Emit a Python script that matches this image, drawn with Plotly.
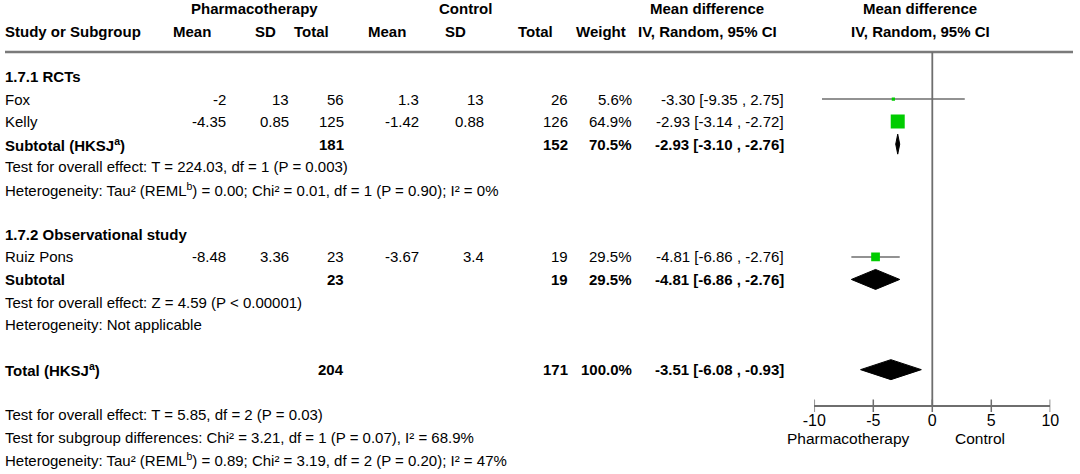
import plotly.graph_objects as go

# study level data
studies = ["Fox", "Kelly", "Ruiz Pons"]
pharm_mean = [-2, -4.35, -8.48]
pharm_sd = [13, 0.85, 3.36]
pharm_n = [56, 125, 23]
ctrl_mean = [1.3, -1.42, -3.67]
ctrl_sd = [13, 0.88, 3.4]
ctrl_n = [26, 126, 19]
weights = [5.6, 64.9, 29.5]
md = [-3.30, -2.93, -4.81]
ci_lo = [-9.35, -3.14, -6.86]
ci_hi = [2.75, -2.72, -2.76]

# subtotals and total
sum_names = ["Subtotal (HKSJ<sup>a</sup>)", "Subtotal", "Total (HKSJ<sup>a</sup>)"]
sum_pharm_n = [181, 23, 204]
sum_ctrl_n = [152, 19, 171]
sum_weights = [70.5, 29.5, 100.0]
sum_md = [-2.93, -4.81, -3.51]
sum_lo = [-3.10, -6.86, -6.08]
sum_hi = [-2.76, -2.76, -0.93]

groups = ["1.7.1 RCTs", "1.7.2 Observational study"]
notes = [
    "Test for overall effect: T = 224.03, df = 1 (P = 0.003)",
    "Heterogeneity: Tau² (REML<sup>b</sup>) = 0.00; Chi² = 0.01, df = 1 (P = 0.90); I² = 0%",
    "Test for overall effect: Z = 4.59 (P < 0.00001)",
    "Heterogeneity: Not applicable",
    "Test for overall effect: T = 5.85, df = 2 (P = 0.03)",
    "Test for subgroup differences: Chi² = 3.21, df = 1 (P = 0.07), I² = 68.9%",
    "Heterogeneity: Tau² (REML<sup>b</sup>) = 0.89; Chi² = 3.19, df = 2 (P = 0.20); I² = 47%",
]
ticks = [-10, -5, 0, 5, 10]

# layout rows (row index -> line of the table)
study_rows = [1, 2, 8]
sum_rows = [3, 9, 13]
group_rows = [0, 7]
note_rows = [4, 5, 10, 11, 15, 16, 17]

W, H = 1080, 474
ROW0, ROWH = 76.5, 22.55          # pixel centre of row 0 and row height
AXIS_PX = 405.7                   # pixel y of the forest axis
FONT = "Liberation Sans, Arial, sans-serif"
FS = 15


def prow(px):
    return (px - ROW0) / ROWH


fig = go.Figure()

# confidence intervals
for y, lo, hi in zip(study_rows, ci_lo, ci_hi):
    fig.add_trace(go.Scatter(x=[lo, hi], y=[y, y], mode="lines",
                             line=dict(color="#6e6e6e", width=1.5), hoverinfo="skip"))

# point estimates, square size from weight
fig.add_trace(go.Scatter(x=md, y=study_rows, mode="markers",
                         marker=dict(symbol="square", color="#00cc00", opacity=1,
                                     size=[14 * (w / 64.9) ** 0.6 for w in weights],
                                     line=dict(width=0))))

# pooled diamonds
half = 10 / ROWH
for y, m, lo, hi in zip(sum_rows, sum_md, sum_lo, sum_hi):
    fig.add_trace(go.Scatter(x=[lo, m, hi, m, lo], y=[y, y - half, y, y + half, y],
                             mode="lines", fill="toself", fillcolor="black",
                             line=dict(color="black", width=1), hoverinfo="skip"))

# crossing tick marks on the axis
fig.add_trace(go.Scatter(x=ticks, y=[prow(AXIS_PX)] * len(ticks), mode="markers",
                         marker=dict(symbol="line-ns", size=9,
                                     line=dict(color="#6e6e6e", width=1.5)),
                         hoverinfo="skip"))

# header rule and zero line
fig.add_shape(type="line", xref="paper", yref="y", x0=5 / W, x1=1073 / W,
              y0=prow(52), y1=prow(52), line=dict(color="#7a7a7a", width=2.5))
fig.add_shape(type="line", xref="x", yref="y", x0=0, x1=0,
              y0=prow(52), y1=prow(AXIS_PX), line=dict(color="#6e6e6e", width=1.8))


def txt(x, y, s, anchor="left", bold=False, size=FS):
    if bold:
        s = f"<b>{s}</b>"
    fig.add_annotation(x=x / W, y=y, xref="paper", yref="y", text=s, showarrow=False,
                       xanchor=anchor, yanchor="middle", borderpad=0, borderwidth=0,
                       font=dict(family=FONT, size=size, color="black"))


# headers
txt(254, -3, "Pharmacotherapy", "center", True)
txt(465, -3, "Control", "center", True)
txt(707, -3, "Mean difference", "center", True)
txt(920, -3, "Mean difference", "center", True)
txt(5, -2, "Study or Subgroup", bold=True)
for x, s in zip([211, 276, 329, 406, 466, 553, 626],
                ["Mean", "SD", "Total", "Mean", "SD", "Total", "Weight"]):
    txt(x, -2, s, "right", True)
txt(707, -2, "IV, Random, 95% CI", "center", True)
txt(920, -2, "IV, Random, 95% CI", "center", True)

# body
cols = [226, 289, 344, 419, 484, 568, 632, 784]
for y, g in zip(group_rows, groups):
    txt(5, y, g, bold=True)
for i, y in enumerate(study_rows):
    txt(5, y, studies[i])
    vals = [f"{pharm_mean[i]:g}", f"{pharm_sd[i]:g}", f"{pharm_n[i]}",
            f"{ctrl_mean[i]:g}", f"{ctrl_sd[i]:g}", f"{ctrl_n[i]}",
            f"{weights[i]:.1f}%", f"{md[i]:.2f} [{ci_lo[i]:.2f} , {ci_hi[i]:.2f}]"]
    for x, v in zip(cols, vals):
        txt(x, y, v, "right")
for i, y in enumerate(sum_rows):
    txt(5, y, sum_names[i], bold=True)
    vals = [f"{sum_pharm_n[i]}", f"{sum_ctrl_n[i]}", f"{sum_weights[i]:.1f}%",
            f"{sum_md[i]:.2f} [{sum_lo[i]:.2f} , {sum_hi[i]:.2f}]"]
    for x, v in zip([cols[2], cols[5], cols[6], cols[7]], vals):
        txt(x, y, v, "right", True)
for y, n in zip(note_rows, notes):
    txt(5, y, n)

# axis captions
txt(848, prow(438), "Pharmacotherapy", "center", size=15.5)
txt(980, prow(438), "Control", "center", size=15.5)

fig.update_layout(
    width=W, height=H, margin=dict(l=0, r=0, t=0, b=0, pad=0),
    plot_bgcolor="white", paper_bgcolor="white", showlegend=False,
    font=dict(family=FONT, size=FS, color="black"),
    xaxis=dict(domain=[814.3 / W, 1050.3 / W], range=[-10, 10], anchor="free",
               position=(H - AXIS_PX) / H, showgrid=False, zeroline=False,
               showline=True, linecolor="#6e6e6e", linewidth=2, automargin=False,
               tickvals=ticks, ticktext=[str(t) for t in ticks], ticks="",
               ticklabelstandoff=0,
               tickfont=dict(family=FONT, size=16, color="black")),
    yaxis=dict(domain=[0, 1], range=[prow(H), prow(0)], visible=False, automargin=False),
)

fig.write_html("out.html", config={"displayModeBar": False},
               post_script="document.body.style.margin='0';")
